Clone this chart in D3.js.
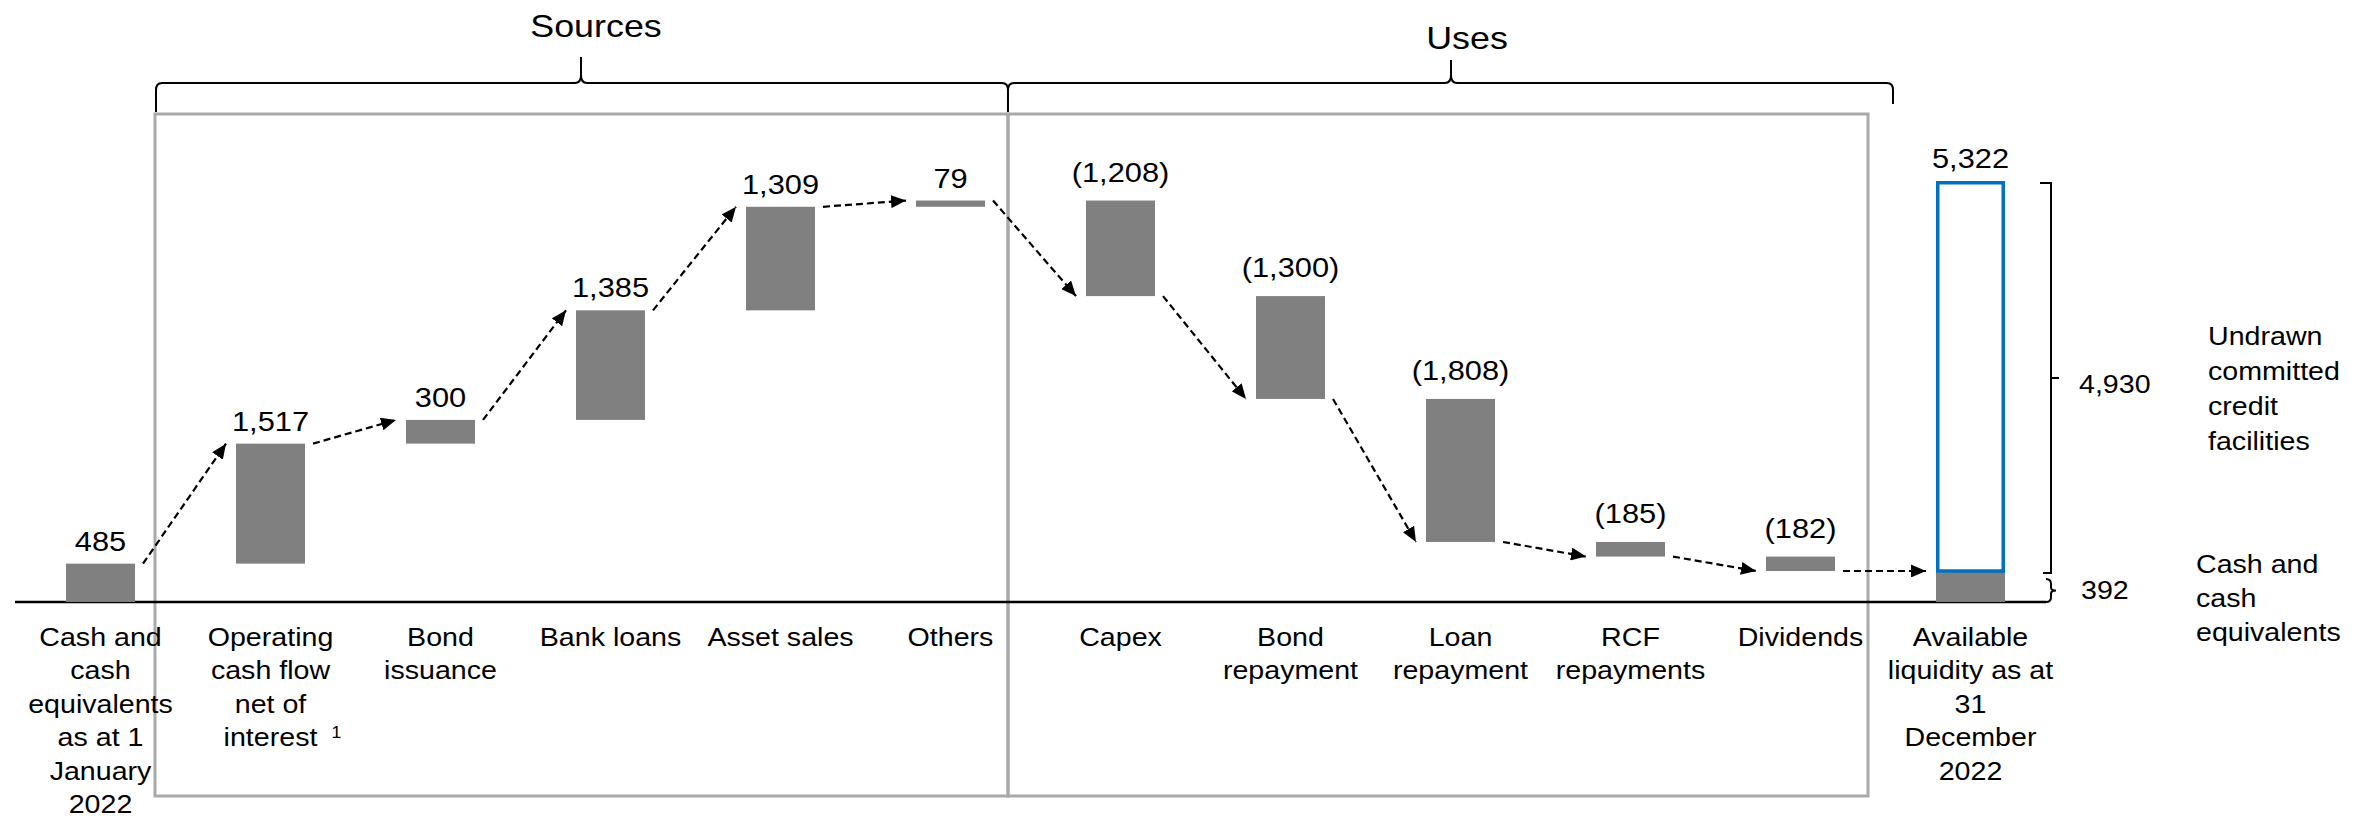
<!DOCTYPE html>
<html>
<head>
<meta charset="utf-8">
<script src="https://cdn.jsdelivr.net/npm/d3@7"></script>
<style>
  html, body { margin: 0; padding: 0; background: #ffffff; }
  svg { display: block; font-family: "Liberation Sans", Arial, Helvetica, sans-serif; }
</style>
</head>
<body>
<script>
// ---------------- data ----------------
const categories = [
  "Cash and\ncash\nequivalents\nas at 1\nJanuary\n2022",
  "Operating\ncash flow\nnet of\ninterest",
  "Bond\nissuance",
  "Bank loans",
  "Asset sales",
  "Others",
  "Capex",
  "Bond\nrepayment",
  "Loan\nrepayment",
  "RCF\nrepayments",
  "Dividends",
  "Available\nliquidity as at\n31\nDecember\n2022"
];
const footnotes = ["", "1", "", "", "", "", "", "", "", "", "", ""];
const openingCash = 485;
const sourceValues = [1517, 300, 1385, 1309, 79];
const useValues = [-1208, -1300, -1808, -185, -182];
const closingCash = 392;
const undrawnFacilities = 4930;
const availableLiquidity = 5322;
const groupLabels = ["Sources", "Uses"];
const sideLabels = ["Undrawn\ncommitted\ncredit\nfacilities", "Cash and\ncash\nequivalents"];

// ---------------- layout ----------------
const W = 2361, H = 819;
const GRAY = "#808080", BLUE = "#0070c0", BOXGRAY = "#a9a9a9";
const SX = 1.1; // horizontal stretch of the original text

const svg = d3.select("body").append("svg").attr("width", W).attr("height", H);

const x = d3.scaleBand().domain(categories).range([66, 2005]).paddingInner(0.594).paddingOuter(0);
const bw = x.bandwidth();
const y = d3.scaleLinear().domain([0, availableLiquidity]).range([602, 181]);

// build waterfall steps
const deltas = sourceValues.concat(useValues);
const steps = [];
let level = openingCash;
steps.push({ cat: categories[0], lo: 0, hi: openingCash, end: openingCash, value: openingCash, kind: "total" });
deltas.forEach((v, i) => {
  const start = level, end = level + v;
  steps.push({ cat: categories[i + 1], lo: Math.min(start, end), hi: Math.max(start, end), end: end, value: v, kind: "delta" });
  level = end;
});
steps.push({ cat: categories[11], lo: 0, hi: availableLiquidity, end: closingCash, value: availableLiquidity, kind: "final" });

const fmt = d3.format(",");
const labelText = v => v < 0 ? "(" + fmt(-v) + ")" : fmt(v);

function stext(g, px, py, str, size, anchor, lh, sx) {
  const t = g.append("text")
    .attr("transform", `translate(${px},${py}) scale(${sx === undefined ? SX : sx},1)`)
    .attr("text-anchor", anchor)
    .attr("font-size", size)
    .attr("fill", "#000");
  str.split("\n").forEach((ln, i) => {
    t.append("tspan").attr("x", 0).attr("dy", i === 0 ? 0 : lh).text(ln);
  });
  return t;
}

// ---------------- group boxes ----------------
const boxTop = 114, boxBottom = 796;
const boxL = x(categories[1]) - 81;
const boxM = x(categories[6]) - 78;
const boxR = x(categories[10]) + bw + 33;
const gBox = svg.append("g").attr("fill", "none").attr("stroke", BOXGRAY).attr("stroke-width", 3);
gBox.append("rect").attr("x", boxL).attr("y", boxTop).attr("width", boxM - boxL).attr("height", boxBottom - boxTop);
gBox.append("rect").attr("x", boxM).attr("y", boxTop).attr("width", boxR - boxM).attr("height", boxBottom - boxTop);

// ---------------- braces ----------------
function bracePath(x0, x1, xm, yL, yE0, yE1, yT) {
  return `M${x0},${yE0} L${x0},${yL + 7} Q${x0},${yL} ${x0 + 6},${yL} L${xm - 6},${yL} Q${xm},${yL} ${xm},${yL - 8} L${xm},${yT}` +
         ` M${xm},${yL - 8} Q${xm},${yL} ${xm + 6},${yL} L${x1 - 6},${yL} Q${x1},${yL} ${x1},${yL + 7} L${x1},${yE1}`;
}
const gBr = svg.append("g").attr("fill", "none").attr("stroke", "#000").attr("stroke-width", 2);
gBr.append("path").attr("d", bracePath(boxL + 1, boxM, 581, 83, 112, 112, 57));
gBr.append("path").attr("d", bracePath(boxM, boxR + 25, 1451, 83, 112, 104, 60));

stext(svg, 596, 37, groupLabels[0], 32, "middle", 0, 1.12);
stext(svg, 1467, 49, groupLabels[1], 32, "middle", 0, 1.12);

// ---------------- baseline ----------------
svg.append("line").attr("x1", 15).attr("x2", 2046).attr("y1", y(0)).attr("y2", y(0))
  .attr("stroke", "#000").attr("stroke-width", 2.5);

// ---------------- bars ----------------
const gBars = svg.append("g");
steps.forEach(s => {
  if (s.kind === "final") {
    gBars.append("rect").attr("x", x(s.cat)).attr("width", bw)
      .attr("y", y(closingCash)).attr("height", y(0) - y(closingCash)).attr("fill", GRAY);
    gBars.append("rect").attr("x", x(s.cat) + 1.75).attr("width", bw - 3.5)
      .attr("y", y(availableLiquidity) + 1.75).attr("height", y(closingCash) - y(availableLiquidity) - 1.75)
      .attr("fill", "#fff").attr("stroke", BLUE).attr("stroke-width", 3.5);
  } else {
    gBars.append("rect").attr("x", x(s.cat)).attr("width", bw)
      .attr("y", y(s.hi)).attr("height", y(s.lo) - y(s.hi)).attr("fill", GRAY);
  }
});

// value labels
const gVal = svg.append("g");
steps.forEach(s => {
  const off = s.value < 0 ? 19 : 13;
  stext(gVal, x(s.cat) + bw / 2, y(s.hi) - off, labelText(s.value), 28, "middle", 0);
});

// ---------------- category labels ----------------
const gCat = svg.append("g");
const catLH = 33.5;
categories.forEach((c, i) => {
  const t = stext(gCat, x(c) + bw / 2, y(0) + 44, c, 26, "middle", catLH);
  if (footnotes[i]) {
    const lines = c.split("\n");
    const last = t.selectAll("tspan").nodes()[lines.length - 1];
    const half = last.getComputedTextLength() * SX / 2;
    stext(gCat, x(c) + bw / 2 + half + 14, y(0) + 44 + catLH * (lines.length - 1) - 9, footnotes[i], 16, "start", 0);
  }
});

// ---------------- arrows ----------------
const defs = svg.append("defs");
defs.append("marker").attr("id", "ah").attr("viewBox", "0 0 15 13")
  .attr("refX", 15).attr("refY", 6.5).attr("markerWidth", 15).attr("markerHeight", 13)
  .attr("markerUnits", "userSpaceOnUse").attr("orient", "auto")
  .append("path").attr("d", "M0,0 L15,6.5 L0,13 Z").attr("fill", "#000");

const gArr = svg.append("g");
for (let i = 0; i < steps.length - 1; i++) {
  const a = steps[i], b = steps[i + 1];
  const x1 = x(a.cat) + bw + 8, y1 = y(a.end);
  const x2 = x(b.cat) - 10, y2 = y(b.end);
  gArr.append("line").attr("x1", x1).attr("y1", y1).attr("x2", x2).attr("y2", y2)
    .attr("stroke", "#000").attr("stroke-width", 2.2).attr("stroke-dasharray", "7,4")
    .attr("marker-end", "url(#ah)");
}

// ---------------- right-hand annotation ----------------
const fx = x(categories[11]) + bw; // right edge of final bar
const bx = fx + 46;
const bTop = y(availableLiquidity) + 2, bBot = y(closingCash) + 2, bMid = (bTop + bBot) / 2;
const gR = svg.append("g").attr("fill", "none").attr("stroke", "#000").attr("stroke-width", 2);
gR.append("path").attr("d", `M${bx - 11},${bTop} L${bx},${bTop} L${bx},${bBot} L${bx - 8},${bBot} M${bx},${bMid} L${bx + 8},${bMid}`);
const s0 = bBot + 6, s1 = y(0);
const sm = (s0 + s1) / 2;
gR.append("path").attr("d",
  `M${bx - 5},${s0} Q${bx},${s0} ${bx},${s0 + 5} L${bx},${sm - 3} Q${bx},${sm} ${bx + 5},${sm} Q${bx},${sm} ${bx},${sm + 3} L${bx},${s1 - 5} Q${bx},${s1} ${bx - 5},${s1}`);

stext(svg, bx + 28, bMid + 15, fmt(undrawnFacilities), 26, "start", 0);
stext(svg, bx + 30, y(0) - 3, fmt(closingCash), 26, "start", 0);
stext(svg, fx + 203, bMid - 33, sideLabels[0], 26, "start", 35);
stext(svg, fx + 191, y(closingCash) + 2, sideLabels[1], 26, "start", 34);
</script>
</body>
</html>
